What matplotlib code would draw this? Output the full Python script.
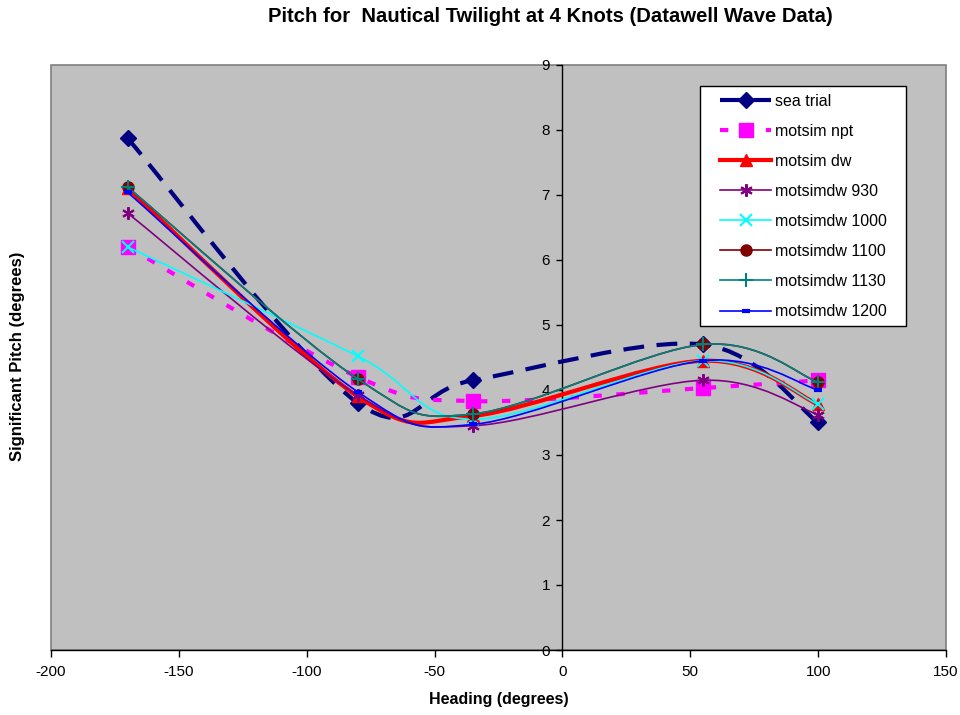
import numpy as np
import matplotlib
matplotlib.use("Agg")
import matplotlib.pyplot as plt
from matplotlib.path import Path
from matplotlib.patches import PathPatch, Rectangle
from matplotlib.lines import Line2D

plt.rcParams['font.family'] = ['Liberation Sans', 'DejaVu Sans']
plt.rcParams['axes.unicode_minus'] = False

headings = [-170, -80, -35, 55, 100]
sea_trial = [7.87, 3.8, 4.15, 4.7, 3.5]
motsim_npt = [6.2, 4.2, 3.83, 4.03, 4.15]
motsim_dw = [7.1, 3.9, 3.6, 4.45, 3.78]
motsimdw_930 = [6.72, 3.92, 3.45, 4.15, 3.62]
motsimdw_1000 = [6.2, 4.52, 3.55, 4.45, 3.78]
motsimdw_1100 = [7.12, 4.17, 3.63, 4.7, 4.12]
motsimdw_1130 = [7.12, 4.17, 3.63, 4.7, 4.12]
motsimdw_1200 = [7.04, 3.97, 3.47, 4.45, 4.0]

series = [
    ("sea trial", sea_trial, dict(color="#000080", lw=3, ls=(0, (5, 3)), marker="D", ms=8, mec="#000080", mfc="#000080", mew=1)),
    ("motsim npt", motsim_npt, dict(color="#FF00FF", lw=3, ls=(0, (2, 3.5)), marker="s", ms=10, mec="#FF00FF", mfc="#FF00FF", mew=1)),
    ("motsim dw", motsim_dw, dict(color="#FF0000", lw=3, ls="-", marker="^", ms=8, mec="#FF0000", mfc="#FF0000", mew=1)),
    ("motsimdw 930", motsimdw_930, dict(color="#800080", lw=1.2, ls="-", marker=(6, 2, 0), ms=9, mec="#800080", mfc="#800080", mew=1.5)),
    ("motsimdw 1000", motsimdw_1000, dict(color="#00FFFF", lw=1.2, ls="-", marker="x", ms=8, mec="#00FFFF", mfc="#00FFFF", mew=1.5)),
    ("motsimdw 1100", motsimdw_1100, dict(color="#800000", lw=1.2, ls="-", marker="o", ms=8, mec="#800000", mfc="#800000", mew=1)),
    ("motsimdw 1130", motsimdw_1130, dict(color="#008080", lw=1.2, ls="-", marker="+", ms=10, mec="#008080", mfc="#008080", mew=1.5)),
    ("motsimdw 1200", motsimdw_1200, dict(color="#0000FF", lw=1.2, ls="-", marker="_", ms=6, mec="#0000FF", mfc="#0000FF", mew=3)),
]


def smooth_path(xs, ys):
    pts = np.column_stack([xs, ys]).astype(float)
    n = len(pts)
    verts = [pts[0]]
    codes = [Path.MOVETO]
    for i in range(n - 1):
        p0 = pts[i - 1] if i > 0 else pts[i]
        p1 = pts[i]
        p2 = pts[i + 1]
        p3 = pts[i + 2] if i + 2 < n else pts[i + 1]
        c1 = p1 + (p2 - p0) / 6.0
        c2 = p2 - (p3 - p1) / 6.0
        verts += [c1, c2, p2]
        codes += [Path.CURVE4] * 3
    return Path(np.array(verts), codes)


W, H = 960, 715
fig = plt.figure(figsize=(W / 100, H / 100), dpi=100)
fig.patch.set_facecolor("white")
ax = fig.add_axes([51 / W, 1 - 650 / H, 895 / W, 585 / H])
ax.set_facecolor("#C0C0C0")
ax.set_xlim(-200, 150)
ax.set_ylim(0, 9)

handles = []
for z, (name, ys, st) in enumerate(series):
    p = PathPatch(smooth_path(headings, ys), facecolor="none", edgecolor=st["color"],
                  lw=st["lw"], ls=st["ls"], zorder=3 + z, capstyle="butt", joinstyle="round")
    ax.add_patch(p)
    ax.plot(headings, ys, ls="none", marker=st["marker"], ms=st["ms"], mec=st["mec"],
            mfc=st["mfc"], mew=st["mew"], zorder=3 + z + 0.5)
    handles.append(Line2D([0], [0], color=st["color"], lw=st["lw"], ls=st["ls"],
                          marker=st["marker"], ms=st["ms"], mec=st["mec"], mfc=st["mfc"],
                          mew=st["mew"], label=name))

# spines
for s in ["top", "right"]:
    ax.spines[s].set_visible(False)
ax.spines["left"].set_position(("data", 0))
ax.spines["left"].set_color("black")
ax.spines["left"].set_linewidth(1)
ax.spines["bottom"].set_color("black")
ax.spines["bottom"].set_linewidth(1)
ax.add_patch(Rectangle((0, 0), 1, 1, transform=ax.transAxes, fill=False,
                       edgecolor="#808080", lw=1.2, zorder=0.5, clip_on=False))

ax.set_xticks(np.arange(-200, 151, 50))
ax.set_yticks(np.arange(0, 10, 1))
ax.tick_params(axis="x", direction="out", length=5, width=1, labelsize=11, pad=6, colors="black")
ax.tick_params(axis="y", direction="out", length=4, width=1, labelsize=11, pad=5, colors="black")

ax.set_xlabel("Heading (degrees)", fontsize=11.5, fontweight="bold", labelpad=9)
fig.text(18 / W, 1 - 356 / H, "Significant Pitch (degrees)", rotation=90, fontsize=12,
         fontweight="bold", ha="center", va="center")
fig.text(550 / W, 1 - 17 / H, "Pitch for  Nautical Twilight at 4 Knots (Datawell Wave Data)",
         fontsize=14.6, fontweight="bold", ha="center", va="center")

# legend frame drawn separately to match the reference box
fig.add_artist(Rectangle((700 / W, 1 - 326 / H), 206 / W, 240 / H, transform=fig.transFigure,
                         facecolor="white", edgecolor="black", lw=1, zorder=4))
leg = fig.legend(handles=handles, loc="upper left", bbox_to_anchor=(720 / W, 1 - 94 / H),
                 bbox_transform=fig.transFigure, frameon=False,
                 fontsize=11.5, handlelength=3.2, handletextpad=0.25, labelspacing=0.94,
                 borderpad=0, borderaxespad=0)
leg.set_zorder(5)

fig.savefig("out.png", dpi=100, facecolor="white")
